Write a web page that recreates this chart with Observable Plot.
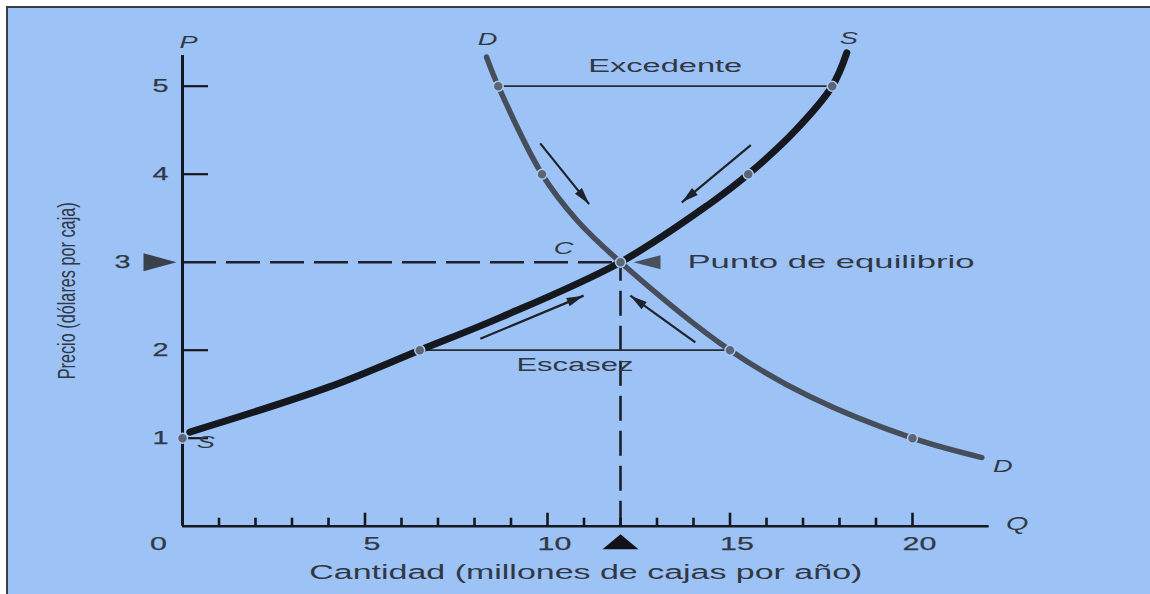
<!DOCTYPE html>
<html>
<head>
<meta charset="utf-8">
<script src="https://cdn.jsdelivr.net/npm/d3@7"></script>
<script src="https://cdn.jsdelivr.net/npm/@observablehq/plot@0.6"></script>
<style>
  html, body { margin: 0; padding: 0; background: #ffffff; }
  #wrap { position: relative; width: 1150px; height: 594px; overflow: hidden; background: #ffffff; }
  #paper { position: absolute; left: 6px; top: 6px; right: 0; bottom: 0; background: #9dc3f6;
           border-left: 2px solid #3a3d44; border-top: 2px solid #3a3d44; }
  #chart { position: absolute; left: 0; top: 0; }
</style>
</head>
<body>
<div id="wrap"><div id="paper"></div><div id="chart"></div></div>
<script>
// ---- data ----
const xLabel = "Cantidad (millones de cajas por año)";
const yLabel = "Precio (dólares por caja)";
const xTickLabels = [0, 5, 10, 15, 20];
const xMajorTicks = [5, 10, 15, 20];
const xMinorTicks = [1, 2, 3, 4, 6, 7, 8, 9, 11, 12, 13, 14, 16, 17, 18, 19];
const yTickLabels = [1, 2, 3, 4, 5];
const yTicks = [1, 2, 4, 5];
const xAxisEnd = 22.1;
const yAxisEnd = 5.35;

// demand curve D (quantity, price)
const demandQ = [8.33, 8.65, 9.85, 10.8, 12, 15, 17.2, 20, 21.9];
const demandP = [5.33, 5, 4, 3.48, 3, 2, 1.47, 1, 0.78];
// supply curve S
const supplyQ = [0.2, 4.0, 6.5, 8.7, 12, 14.4, 15.5, 16.8, 17.8, 18.2];
const supplyP = [1.07, 1.58, 2, 2.37, 3, 3.65, 4, 4.5, 5, 5.38];

// marked points
const demandDotsQ = [8.65, 9.85, 15, 20];
const demandDotsP = [5, 4, 2, 1];
const supplyDotsQ = [0, 6.5, 15.5, 17.8];
const supplyDotsP = [1, 2, 4, 5];
const eqQ = 12, eqP = 3;

// surplus (price 5) and shortage (price 2)
const surplusP = 5, surplusQ1 = 8.65, surplusQ2 = 17.8;
const shortageP = 2, shortageQ1 = 6.5, shortageQ2 = 15;

// adjustment arrows
const arrowX1 = [9.8, 15.57, 8.16, 14.05];
const arrowY1 = [4.35, 4.33, 2.13, 2.09];
const arrowX2 = [11.14, 13.68, 10.99, 12.27];
const arrowY2 = [3.66, 3.68, 2.62, 2.62];

// ---- layout ----
const W = 1150, H = 594;
const mL = 182, mR = 19, mT = 6.5, mB = 68.3;
const xDomain = [0, 26], yDomain = [0, 5.9];
const kx = (W - mL - mR) / (xDomain[1] - xDomain[0]);
const ky = (H - mT - mB) / (yDomain[1] - yDomain[0]);

// ---- build tables ----
const demand = demandQ.map((q, i) => ({q, p: demandP[i]}));
const supply = supplyQ.map((q, i) => ({q, p: supplyP[i]}));
const dots = [
  ...demandDotsQ.map((q, i) => ({q, p: demandDotsP[i]})),
  ...supplyDotsQ.map((q, i) => ({q, p: supplyDotsP[i]})),
  {q: eqQ, p: eqP}
];
const arrows = arrowX1.map((x1, i) => {
  const x2 = arrowX2[i], y1 = arrowY1[i], y2 = arrowY2[i];
  const angle = Math.atan2((x2 - x1) * kx, (y2 - y1) * ky) * 180 / Math.PI;
  return {x1, y1, x2, y2, angle};
});
const dStart = demand[0], dEnd = demand[demand.length - 1];
const sStart = supply[0], sEnd = supply[supply.length - 1];

const ink = "#15181e";
const textInk = "#313844";
const font = "'Liberation Sans', Arial, sans-serif";
const txt = {fill: textInk, stroke: textInk, strokeWidth: 0.25};
const italic = {fill: textInk, fontStyle: "italic", fontSize: 17, text: d => d};

const svg = Plot.plot({
  width: W,
  height: H,
  marginLeft: mL,
  marginRight: mR,
  marginTop: mT,
  marginBottom: mB,
  x: {domain: xDomain},
  y: {domain: yDomain},
  style: {background: "transparent", fontFamily: font, color: ink, overflow: "visible"},
  marks: [
    // dashed equilibrium guides
    Plot.ruleY([eqP], {x1: 0, x2: eqQ, stroke: "#1c2028", strokeWidth: 2.4, strokeDasharray: "34,10"}),
    Plot.ruleX([eqQ], {y1: 0, y2: eqP, stroke: "#1c2028", strokeWidth: 2.6, strokeDasharray: "25,10"}),
    // surplus / shortage lines
    Plot.ruleY([surplusP], {x1: surplusQ1, x2: surplusQ2, stroke: "#262b34", strokeWidth: 1.8}),
    Plot.ruleY([shortageP], {x1: shortageQ1, x2: shortageQ2, stroke: "#262b34", strokeWidth: 1.8}),
    // axes lines
    Plot.ruleX([0], {y1: 0, y2: yAxisEnd, stroke: ink, strokeWidth: 3}),
    Plot.ruleY([0], {x1: 0, x2: xAxisEnd, stroke: ink, strokeWidth: 2.4}),
    // axis ticks (pointing inward)
    Plot.axisX(xMinorTicks, {tickSize: -8, strokeWidth: 2.6, stroke: ink, tickFormat: () => ""}),
    Plot.axisX(xMajorTicks, {tickSize: -13, strokeWidth: 2.6, stroke: ink, tickFormat: () => ""}),
    Plot.axisY(yTicks, {tickSize: -26, strokeWidth: 2.2, stroke: ink, tickFormat: () => ""}),
    // tick labels
    Plot.text(xTickLabels.filter(d => d !== 0), {x: d => d, y: 0, dy: 18, dx: 7, fontSize: 19, ...txt}),
    Plot.text(xTickLabels.filter(d => d === 0), {x: d => d, y: 0, dy: 18, dx: -24, fontSize: 19, ...txt}),
    Plot.text(yTickLabels.filter(d => d !== eqP), {x: 0, y: d => d, dx: -22, fontSize: 18, ...txt}),
    Plot.text(yTickLabels.filter(d => d === eqP), {x: 0, y: d => d, dx: -60, fontSize: 18, ...txt}),
    // axis titles
    Plot.text([xLabel], {x: xAxisEnd / 2, y: 0, dy: 46, fontSize: 20, fill: textInk, text: d => d}),
    Plot.text([yLabel], {x: 0, y: yAxisEnd / 2, dx: -115, rotate: -90, fontSize: 23, fill: textInk, text: d => d}),
    Plot.text(["P"], {x: 0, y: yAxisEnd, dx: 6, dy: -13, ...italic}),
    Plot.text(["Q"], {x: xAxisEnd, y: 0, dx: 28, dy: -2, ...italic, fontSize: 18}),
    // curves
    Plot.line(demand, {x: "q", y: "p", curve: "catmull-rom", stroke: "#464e5c", strokeWidth: 5.5}),
    Plot.line(supply, {x: "q", y: "p", curve: "catmull-rom", stroke: ink, strokeWidth: 7}),
    // arrows: shaft + filled narrow head
    Plot.link(arrows, {x1: "x1", y1: "y1", x2: "x2", y2: "y2", stroke: "#1d222b", strokeWidth: 2.2}),
    Plot.vector(arrows, {x: "x2", y: "y2", rotate: "angle", length: 17, r: 4.5, shape: "spike", anchor: "end", fill: "#1d222b", stroke: "none"}),
    // dots
    Plot.dot(dots, {x: "q", y: "p", r: 5, fill: "#5b6576", stroke: "#a8caf4", strokeWidth: 1.5}),
    // triangles
    Plot.vector([{q: 0, p: eqP}], {x: "q", y: "p", rotate: 90, length: 33, r: 9, shape: "spike", anchor: "end", dx: -6, fill: "#3b414c", stroke: "none"}),
    Plot.vector([{q: eqQ, p: 0}], {x: "q", y: "p", rotate: 0, length: 15, r: 18, shape: "spike", anchor: "end", dy: 8, fill: "#111318", stroke: "none"}),
    Plot.vector([{q: eqQ, p: eqP}], {x: "q", y: "p", rotate: -90, length: 27, r: 7, shape: "spike", anchor: "end", dx: 13, fill: "#4a505b", stroke: "none"}),
    // annotations
    Plot.text(["Excedente"], {x: (surplusQ1 + surplusQ2) / 2, y: surplusP, dy: -20, fontSize: 18, fill: textInk, text: d => d}),
    Plot.text(["Escasez"], {x: (shortageQ1 + shortageQ2) / 2, y: shortageP, dy: 15, fontSize: 19, fill: textInk, text: d => d}),
    Plot.text(["Punto de equilibrio"], {x: eqQ, y: eqP, dx: 67, textAnchor: "start", fontSize: 19, fill: textInk, text: d => d}),
    Plot.text(["C"], {x: eqQ, y: eqP, dx: -57, dy: -14, ...italic}),
    Plot.text(["D"], {x: dStart.q, y: dStart.p, dx: 1, dy: -18, ...italic}),
    Plot.text(["D"], {x: dEnd.q, y: dEnd.p, dx: 21, dy: 9, ...italic}),
    Plot.text(["S"], {x: sEnd.q, y: sEnd.p, dx: 2, dy: -14, ...italic}),
    Plot.text(["S"], {x: sStart.q, y: sStart.p, dx: 16, dy: 11, ...italic})
  ]
});

document.getElementById("chart").appendChild(svg);

// widen the labels like in the scanned figure
const stretch = {"Excedente": 154, "Punto de equilibrio": 287, "Escasez": 117};
stretch[xLabel] = 553;
stretch[yLabel] = 177;
d3.select(svg).selectAll("text").each(function () {
  const t = this.textContent;
  if (!t) return;
  const len = stretch[t] || this.getComputedTextLength() * 1.6;
  this.setAttribute("textLength", len);
  this.setAttribute("lengthAdjust", "spacingAndGlyphs");
});
</script>
</body>
</html>
